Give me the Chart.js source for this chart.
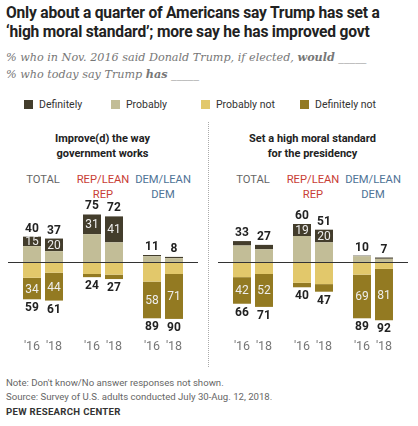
<!DOCTYPE html>
<html><head><meta charset="utf-8">
<script src="https://cdn.jsdelivr.net/npm/chart.js@4"></script>
<style>
body{margin:0;width:418px;height:426px;background:#fff;font-family:Roboto,Arial,sans-serif;position:relative;overflow:hidden}
.a{position:absolute;white-space:nowrap}
#t{left:6px;top:4px;font-weight:bold;font-size:15.6px;line-height:19px;color:#222;letter-spacing:-0.2px}
.sub{left:6px;font-style:italic;font-size:11.2px;color:#777;font-family:Georgia,"DejaVu Serif",serif}
.lg{top:98px;font-size:10.5px;color:#333}
.lg i{display:inline-block;width:9px;height:9px;margin-right:6px;vertical-align:-1px}
.pt{font-weight:bold;font-size:11px;text-align:center;line-height:15px;color:#222}
.gh{font-size:11.2px;text-align:center;line-height:15px}
.note{left:6px;font-size:9.6px;color:#666}
canvas{position:absolute}
</style></head><body>
<div class="a" id="t">Only about a quarter of Americans say Trump has set a<br>‘high moral standard’; more say he has improved govt</div>
<div class="a sub" style="top:50px">% who in Nov. 2016 said Donald Trump, if elected, <b>would</b> _____</div>
<div class="a sub" style="top:67px">% who today say Trump <b>has</b> _____</div>
<div class="a lg" style="left:24px"><i style="background:#433d2c"></i>Definitely</div>
<div class="a lg" style="left:111px"><i style="background:#c2bd97"></i>Probably</div>
<div class="a lg" style="left:201px"><i style="background:#e2c86b"></i>Probably not</div>
<div class="a lg" style="left:300px"><i style="background:#937a22"></i>Definitely not</div>
<div class="a pt" style="left:0;width:205px;top:131px">Improve(d) the way<br>government works</div>
<div class="a pt" style="left:210px;width:205px;top:131px">Set a high moral standard<br>for the presidency</div>
<div class="a gh" style="left:13px;width:60px;top:172px;color:#666">TOTAL</div>
<div class="a gh" style="left:73px;width:60px;top:172px;color:#c83e35">REP/LEAN<br>REP</div>
<div class="a gh" style="left:133px;width:60px;top:172px;color:#4f7396">DEM/LEAN<br>DEM</div>
<div class="a gh" style="left:223px;width:60px;top:172px;color:#666">TOTAL</div>
<div class="a gh" style="left:283px;width:60px;top:172px;color:#c83e35">REP/LEAN<br>REP</div>
<div class="a gh" style="left:343px;width:60px;top:172px;color:#4f7396">DEM/LEAN<br>DEM</div>
<div class="a" style="left:208px;top:122px;height:245px;border-left:1px dotted #aaa"></div>
<canvas id="c1" style="left:0;top:190px" width="205" height="170"></canvas>
<canvas id="c2" style="left:210px;top:190px" width="205" height="170"></canvas>
<div class="a note" style="top:377px">Note: Don't know/No answer responses not shown.</div>
<div class="a note" style="top:391px">Source: Survey of U.S. adults conducted July 30-Aug. 12, 2018.</div>
<div class="a" style="left:6px;top:406px;font-size:9.6px;font-weight:bold;color:#333;letter-spacing:0.3px">PEW RESEARCH CENTER</div>
<script>
const groups=['TOTAL','REP/LEAN REP','DEM/LEAN DEM'];
const years=["'16","'18"];
// panel 1: Improve(d) the way government works  [group][year]
const gov_def=[[15,20],[31,41],[2,2]];
const gov_prob=[[25,17],[44,31],[9,6]];
const gov_probnot=[[25,17],[19,20],[31,19]];
const gov_defnot=[[34,44],[5,7],[58,71]];
const gov_yes=[[40,37],[75,72],[11,8]];
const gov_no=[[59,61],[24,27],[89,90]];
// panel 2: Set a high moral standard
const mor_def=[[7,7],[19,20],[1,2]];
const mor_prob=[[26,20],[41,31],[9,5]];
const mor_probnot=[[24,19],[33,35],[20,11]];
const mor_defnot=[[42,52],[7,12],[69,81]];
const mor_yes=[[33,27],[60,51],[10,7]];
const mor_no=[[66,71],[40,47],[89,92]];
const inDef=[[true,true],[true,true],[false,false]];
const inDefnot=[[true,true],[false,false],[true,true]];
const inDefM=[[false,false],[true,true],[false,false]];

const C={def:'#433d2c',prob:'#c2bd97',pn:'#e2c86b',dn:'#937a22'};
function make(id,def,prob,pn,dn,yes,no,showDef,showDn){
  const ds=[];
  years.forEach((y,yi)=>{
    const col=a=>a.map(g=>g[yi]);
    ds.push({label:'Probably',key:'prob',yi,data:col(prob),backgroundColor:C.prob,stack:y});
    ds.push({label:'Definitely',key:'def',yi,data:col(def),backgroundColor:C.def,stack:y});
    ds.push({label:'Probably not',key:'pn',yi,data:col(pn).map(v=>-v),backgroundColor:C.pn,stack:y});
    ds.push({label:'Definitely not',key:'dn',yi,data:col(dn).map(v=>-v),backgroundColor:C.dn,stack:y});
  });
  const lab={id:'lab',afterDatasetsDraw(ch){
    const c=ch.ctx, ys=ch.scales.y;
    c.save();c.textAlign='center';
    c.strokeStyle='#333';c.lineWidth=1.2;c.beginPath();
    const z=Math.round(ys.getPixelForValue(0))+0.5;c.moveTo(8,z);c.lineTo(198,z);c.stroke();
    ch.data.datasets.forEach((d,di)=>{
      const m=ch.getDatasetMeta(di);
      m.data.forEach((b,gi)=>{
        const yi=d.yi;
        if(d.key==='def'){
          c.font='bold 12px Roboto';c.fillStyle='#222';c.textBaseline='bottom';
          c.fillText(yes[gi][yi],b.x,b.y-2);
          if(showDef[gi][yi]){c.font='12px Roboto';c.fillStyle='#eee';c.textBaseline='middle';c.fillText(def[gi][yi],b.x,(b.y+b.base)/2+1);}
        }
        if(d.key==='dn'){
          c.font='bold 12px Roboto';c.fillStyle='#222';c.textBaseline='top';
          c.fillText(no[gi][yi],b.x,b.y+3);
          if(showDn[gi][yi]){c.font='12px Roboto';c.fillStyle='#eee';c.textBaseline='middle';c.fillText(dn[gi][yi],b.x,(b.y+b.base)/2+1);}
          c.font='12.5px Roboto';c.fillStyle='#777';c.textBaseline='top';
          c.fillText(years[yi],b.x,151);
        }
      });
    });
    c.restore();
  }};
  new Chart(document.getElementById(id),{type:'bar',data:{labels:groups,datasets:ds},
    options:{responsive:false,animation:false,events:[],layout:{padding:{left:13,right:12,top:0,bottom:0}},
      categoryPercentage:0.733,barPercentage:0.818,
      plugins:{legend:{display:false},tooltip:{enabled:false}},
      scales:{x:{display:false,stacked:true},y:{display:false,stacked:true,min:-154.9,max:113.7}}},
    plugins:[lab]});
}
make('c1',gov_def,gov_prob,gov_probnot,gov_defnot,gov_yes,gov_no,inDef,inDefnot);
make('c2',mor_def,mor_prob,mor_probnot,mor_defnot,mor_yes,mor_no,inDefM,inDefnot);
</script></body></html>
